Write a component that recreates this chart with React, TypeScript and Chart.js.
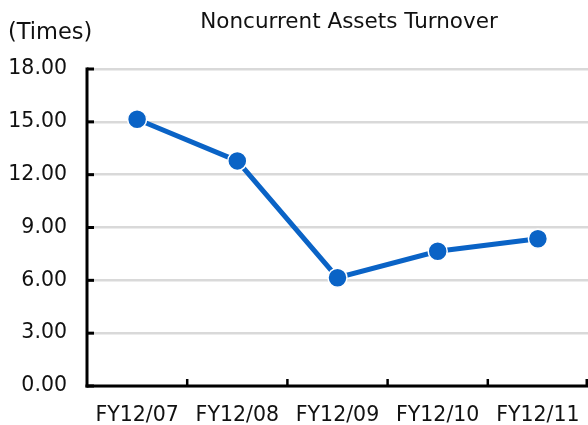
import React, { useEffect, useRef } from "react";
import { Chart, registerables } from "chart.js";

Chart.register(...registerables);

const categories = ["FY12/07", "FY12/08", "FY12/09", "FY12/10", "FY12/11"];
const turnover = [15.15, 12.78, 6.15, 7.65, 8.36];
const yMin = 0;
const yMax = 18;
const yStep = 3;
const chartTitle = "Noncurrent Assets Turnover";
const unitLabel = "(Times)";

const FONT = "'DejaVu Sans', Verdana, sans-serif";
const TEXT = "#111111";
const BLUE = "#0a63c6";

const axesPlugin = {
  id: "customAxes",
  beforeDatasetsDraw(chart: any) {
    const { ctx, chartArea } = chart;
    const { left, right, top, bottom } = chartArea;
    const yScale = chart.scales.y;
    ctx.save();
    ctx.strokeStyle = "#000";
    ctx.lineWidth = 3;
    ctx.lineCap = "butt";
    ctx.beginPath();
    ctx.moveTo(left, top - 1.5);
    ctx.lineTo(left, bottom + 1.5);
    ctx.stroke();
    ctx.beginPath();
    ctx.moveTo(left - 1.5, bottom);
    ctx.lineTo(right, bottom);
    ctx.stroke();
    yScale.ticks.forEach((t: any) => {
      const y = yScale.getPixelForValue(t.value);
      ctx.beginPath();
      ctx.moveTo(left, y);
      ctx.lineTo(left + 7, y);
      ctx.stroke();
    });
    const n = categories.length;
    ctx.lineWidth = 2.5;
    for (let i = 1; i <= n; i++) {
      const x = Math.min(left + (i * (right - left)) / n, right - 1.25);
      ctx.beginPath();
      ctx.moveTo(x, bottom);
      ctx.lineTo(x, bottom - 7);
      ctx.stroke();
    }
    ctx.restore();
  },
  afterDraw(chart: any) {
    const { ctx } = chart;
    ctx.save();
    ctx.fillStyle = TEXT;
    ctx.textBaseline = "middle";
    ctx.font = `21.5px ${FONT}`;
    ctx.textAlign = "center";
    ctx.fillText(chartTitle, 349, 22);
    ctx.textAlign = "left";
    ctx.font = `22.5px ${FONT}`;
    ctx.fillText(unitLabel, 8, 33);
    ctx.restore();
  },
};

export default function App() {
  const ref = useRef<HTMLCanvasElement>(null);
  useEffect(() => {
    if (!ref.current) return;
    const chart = new Chart(ref.current, {
      type: "line",
      data: {
        labels: categories,
        datasets: [
          {
            data: turnover,
            borderColor: BLUE,
            borderWidth: 5,
            backgroundColor: BLUE,
            pointBackgroundColor: BLUE,
            pointBorderColor: "#ffffff",
            pointBorderWidth: 1.5,
            pointRadius: 9.5,
            pointHoverRadius: 9.5,
            tension: 0,
            fill: false,
            clip: false,
          },
        ],
      },
      options: {
        responsive: false,
        animation: false,
        layout: { autoPadding: false, padding: { top: 69, right: 0, left: 0, bottom: 0 } },
        plugins: {
          legend: { display: false },
          title: { display: false },
          tooltip: { enabled: false },
        },
        scales: {
          x: {
            type: "category",
            offset: true,
            grid: { display: false, drawTicks: false },
            border: { display: false },
            ticks: {
              color: TEXT,
              font: { family: FONT, size: 20.5 },
              padding: 17,
              maxRotation: 0,
              autoSkip: false,
            },
            afterFit: (axis: any) => {
              axis.height = 39;
              axis.paddingLeft = 0;
              axis.paddingRight = 0;
            },
          },
          y: {
            min: yMin,
            max: yMax,
            grid: { color: "#d9d9d9", lineWidth: 2.5, drawTicks: false },
            border: { display: false },
            ticks: {
              stepSize: yStep,
              color: TEXT,
              font: { family: FONT, size: 20.5 },
              padding: 20,
              callback: (v: any) => Number(v).toFixed(2),
            },
            afterFit: (axis: any) => {
              axis.width = 87;
              axis.paddingTop = 0;
              axis.paddingBottom = 0;
            },
          },
        },
      },
      plugins: [axesPlugin],
    });
    return () => chart.destroy();
  }, []);
  return (
    <canvas
      ref={ref}
      width={588}
      height={425}
      style={{ position: "absolute", top: 0, left: 0, width: 588, height: 425 }}
    />
  );
}
